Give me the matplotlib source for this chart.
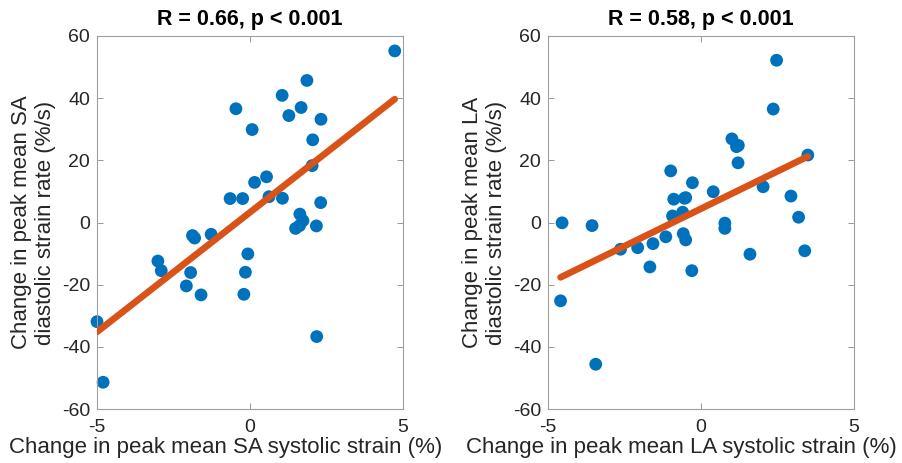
import numpy as np
import matplotlib.pyplot as plt

plt.rcParams['font.family'] = ['Liberation Sans', 'DejaVu Sans']
plt.rcParams['axes.unicode_minus'] = False

# short-axis (SA) change values
sa_strain = [4.73, 1.86, 1.05, -0.46, 1.67, 1.27, 2.32, 0.07, 2.05, 2.03,
             0.54, 0.15, -0.65, -0.24, 0.62, 1.06, 2.31, 1.63, 1.73, 1.49,
             1.62, 2.17, -0.07, -0.15, -0.20, -1.27, -1.88, -1.81, -1.94,
             -2.08, -1.60, -3.01, -2.90, -5.0, -4.80, 2.18]
sa_rate = [55.2, 45.7, 40.9, 36.6, 37.0, 34.4, 33.2, 29.9, 26.6, 18.3,
           14.7, 12.9, 7.7, 7.7, 8.3, 7.8, 6.4, 2.7, 0.6, -1.9,
           -1.0, -1.1, -10.1, -16.0, -23.1, -3.8, -4.2, -5.0, -16.1,
           -20.4, -23.3, -12.4, -15.5, -31.9, -51.4, -36.7]

# long-axis (LA) change values
la_strain = [2.47, 2.36, 3.49, 1.01, 1.16, 1.22, 1.21, -0.99, -0.28, 0.40,
             2.03, 2.94, 3.19, -0.89, -0.54, -0.50, -0.93, -0.60, -4.54,
             -3.56, 0.78, 0.78, 3.39, 1.60, -0.30, -1.67, -1.57, -2.07,
             -2.63, -1.15, -0.58, -0.50, -4.59, -3.44]
la_rate = [52.2, 36.5, 21.7, 26.9, 24.4, 24.8, 19.2, 16.6, 12.8, 9.9,
           11.5, 8.5, 1.7, 7.5, 7.8, 8.0, 2.1, 3.3, -0.1,
           -1.0, -0.2, -1.9, -9.1, -10.2, -15.5, -14.3, -6.8, -8.1,
           -8.6, -4.6, -3.6, -5.6, -25.2, -45.6]

titles = ["R = 0.66, p < 0.001", "R = 0.58, p < 0.001"]
xlabels = ["Change in peak mean SA systolic strain (%)",
           "Change in peak mean LA systolic strain (%)"]
ylabels = ["Change in peak mean SA\ndiastolic strain rate (%/s)",
           "Change in peak mean LA\ndiastolic strain rate (%/s)"]
xlabel_x = [0.42, 0.435]

blue = "#0072BD"
orange = "#D95319"
txt = "#262626"

fig = plt.figure(figsize=(9.03, 4.63), dpi=100)
ax1 = fig.add_axes([97 / 903, 1 - 409 / 463, 306 / 903, 373 / 463])
ax2 = fig.add_axes([548 / 903, 1 - 409 / 463, 306 / 903, 373 / 463])

for ax, x, y, t, xl, yl, lx in zip([ax1, ax2], [sa_strain, la_strain],
                                   [sa_rate, la_rate], titles, xlabels,
                                   ylabels, xlabel_x):
    x = np.array(x)
    y = np.array(y)
    ax.scatter(x, y, s=85, color=blue, edgecolors="none", zorder=2, clip_on=False)
    # least squares fit over the data range
    k, b = np.polyfit(x, y, 1)
    xs = np.array([x.min(), x.max()])
    ax.plot(xs, k * xs + b, color=orange, lw=4.8, solid_capstyle="round", zorder=3)

    ax.set_xlim(-5, 5)
    ax.set_ylim(-60, 60)
    ax.set_xticks([-5, 0, 5])
    ax.set_yticks([-60, -40, -20, 0, 20, 40, 60])
    ax.tick_params(direction="in", top=True, right=True, length=4, width=0.6,
                   color="#888888", labelsize=14, labelcolor=txt)
    ax.tick_params(axis="x", pad=7)
    ax.tick_params(axis="y", pad=5)
    for s in ax.spines.values():
        s.set_color("#a0a0a0")
        s.set_linewidth(0.8)
    ax.set_title(t, fontsize=15.5, fontweight="bold", color="black", pad=8)
    ax.set_xlabel(xl, fontsize=16, color=txt)
    ax.xaxis.set_label_coords(lx, -0.074)
    ax.set_ylabel(yl, fontsize=16, color=txt, labelpad=4)

fig.savefig("out.png", dpi=100)
